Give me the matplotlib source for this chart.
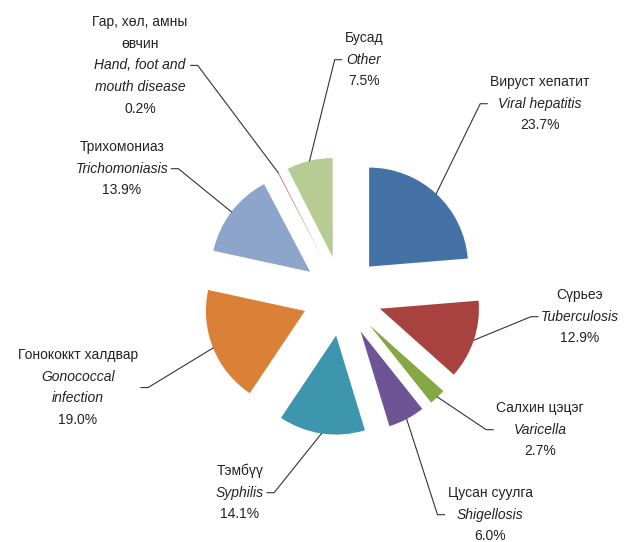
import numpy as np
import matplotlib
matplotlib.use('Agg')
import matplotlib.pyplot as plt

plt.rcParams['font.family'] = ['Liberation Sans', 'DejaVu Sans']

# data
names_mn = ['Вируст хепатит', 'Сүрьеэ', 'Салхин цэцэг', 'Цусан суулга', 'Тэмбүү',
            'Гонококкт халдвар', 'Трихомониаз', 'Гар, хөл, амны\nөвчин', 'Бусад']
names_en = ['Viral hepatitis', 'Tuberculosis', 'Varicella', 'Shigellosis', 'Syphilis',
            'Gonococcal\ninfection', 'Trichomoniasis', 'Hand, foot and\nmouth disease', 'Other']
shares = [23.7, 12.9, 2.7, 6.0, 14.1, 19.0, 13.9, 0.2, 7.5]
colors = ['#4471A6', '#A8423F', '#86A844', '#6E5494', '#3D96AE',
          '#DA8137', '#8EA5CB', '#CE8E8D', '#B7CC94']

# label layout: centre x and first line y (pixels from top), side of leader
lab_x = [540, 580, 540, 490, 240, 78, 122, 140, 364]
lab_y = [82, 295, 408, 493, 471, 355, 147, 22, 38]
lab_side = ['left', 'left', 'left', 'left', 'right', 'right', 'right', 'right', 'left']

W, H = 625, 542
R = 99
fig = plt.figure(figsize=(6.25, 5.42), dpi=100)
ax = fig.add_axes([0, 0, 1, 1])

wedges, _ = ax.pie(shares, colors=colors, startangle=90, counterclock=False,
                   radius=R, center=(342, H - 296), explode=[40] * len(shares),
                   wedgeprops=dict(linewidth=0), frame=True)
ax.set_xlim(0, W)
ax.set_ylim(0, H)
ax.set_aspect('equal')
ax.axis('off')

fs = 10
step = 21.7
renderer = fig.canvas.get_renderer()
for i, w in enumerate(wedges):
    lines = [(t, 'normal') for t in names_mn[i].split('\n')]
    lines += [(t, 'italic') for t in names_en[i].split('\n')]
    lines += [('%.1f%%' % shares[i], 'normal')]
    texts = []
    for k, (t, st) in enumerate(lines):
        texts.append(ax.text(lab_x[i], H - (lab_y[i] + k * step), t, style=st,
                             ha='center', va='center', fontsize=fs, color='#222222'))
    wmax = max(t.get_window_extent(renderer).width for t in texts)
    ymid = H - (lab_y[i] + (len(lines) - 1) * step / 2)
    if lab_side[i] == 'left':
        ax0 = lab_x[i] - wmax / 2 - 3
        ax1 = ax0 - 7
    else:
        ax0 = lab_x[i] + wmax / 2 + 3
        ax1 = ax0 + 7
    # wedge outer arc midpoint
    ang = np.deg2rad((w.theta1 + w.theta2) / 2)
    px = w.center[0] + w.r * np.cos(ang)
    py = w.center[1] + w.r * np.sin(ang)
    ax.plot([ax0, ax1, px], [ymid, ymid, py], color='#333333', lw=0.8)

fig.savefig('out.png', dpi=100, facecolor='white')
